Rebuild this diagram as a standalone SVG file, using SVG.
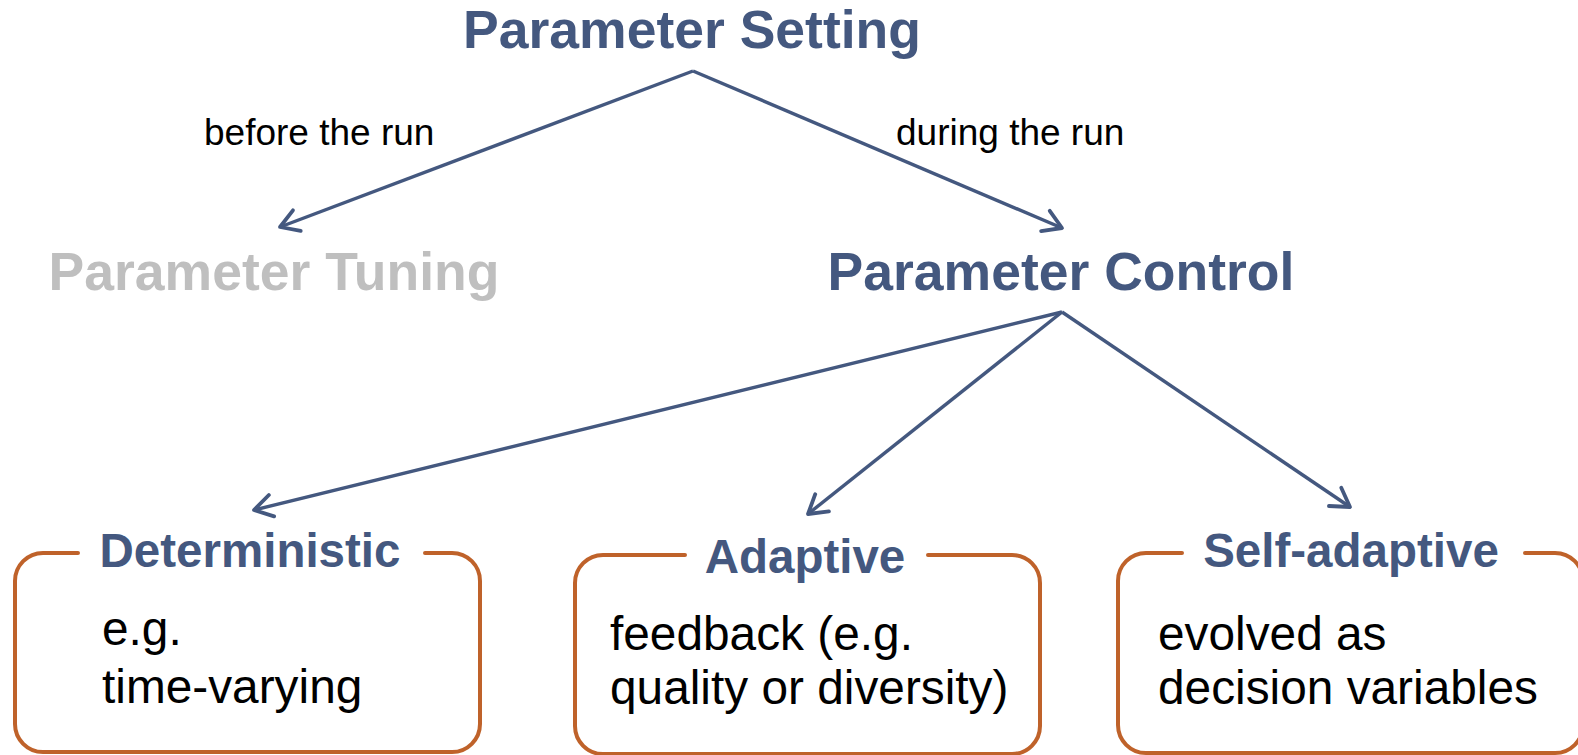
<svg xmlns="http://www.w3.org/2000/svg" width="1578" height="755" viewBox="0 0 1578 755">
  <style>
    .head { font-family: "Liberation Sans", Arial, sans-serif; font-weight: bold; font-size: 53.5px; fill: #44587f; }
    .muted { fill: #bfbfbf; }
    .edge-label { font-family: "Liberation Sans", Arial, sans-serif; font-size: 37px; fill: #000; }
    .title { font-family: "Liberation Sans", Arial, sans-serif; font-weight: bold; font-size: 47.5px; fill: #44587f; }
    .body { font-family: "Liberation Sans", Arial, sans-serif; font-size: 47.8px; fill: #000; }
    .frame { fill: none; stroke: #bf622a; stroke-width: 4; stroke-linecap: round; }
    .link { fill: none; stroke: #44587f; stroke-width: 3.4; marker-end: url(#arrow); }
  </style>
  <defs>
    <marker id="arrow" markerUnits="userSpaceOnUse" orient="auto" markerWidth="40" markerHeight="40" viewBox="-25 -20 40 40" refX="0" refY="0" overflow="visible">
      <path d="M-18,-11 L0,0 L-18,11" fill="none" stroke="#44587f" stroke-width="3.8" stroke-linecap="round" stroke-linejoin="round"/>
    </marker>
  </defs>

  <rect width="1578" height="755" fill="#ffffff"/>

  <!-- connectors -->
  <g id="connectors">
    <line class="link" x1="693" y1="71" x2="280" y2="227"/>
    <line class="link" x1="693" y1="71" x2="1062" y2="228"/>
    <line class="link" x1="1062" y1="312" x2="254" y2="510"/>
    <line class="link" x1="1062" y1="312" x2="808" y2="514"/>
    <line class="link" x1="1062" y1="312" x2="1350" y2="507"/>
    <text class="edge-label" x="204" y="145">before the run</text>
    <text class="edge-label" x="896" y="145">during the run</text>
  </g>

  <!-- top level -->
  <g id="parameter-setting">
    <text class="head" x="692" y="48" text-anchor="middle">Parameter Setting</text>
  </g>
  <g id="parameter-tuning">
    <text class="head muted" x="274" y="290" text-anchor="middle">Parameter Tuning</text>
  </g>
  <g id="parameter-control">
    <text class="head" x="1061" y="290" text-anchor="middle">Parameter Control</text>
  </g>

  <!-- boxed categories: frame open at the top for the title -->
  <g id="deterministic">
    <path class="frame" d="M78,553 H43 A28,28 0 0 0 15,581 V724 A28,28 0 0 0 43,752 H452 A28,28 0 0 0 480,724 V581 A28,28 0 0 0 452,553 H425"/>
    <text class="title" x="250" y="567" text-anchor="middle">Deterministic</text>
    <text class="body" x="102" y="645">e.g.</text>
    <text class="body" x="102" y="703">time-varying</text>
  </g>

  <g id="adaptive">
    <path class="frame" d="M685,555 H603 A28,28 0 0 0 575,583 V726 A28,28 0 0 0 603,754 H1012 A28,28 0 0 0 1040,726 V583 A28,28 0 0 0 1012,555 H928"/>
    <text class="title" x="805" y="573" text-anchor="middle">Adaptive</text>
    <text class="body" x="610" y="650">feedback (e.g.</text>
    <text class="body" x="610" y="704">quality or diversity)</text>
  </g>

  <g id="self-adaptive">
    <path class="frame" d="M1182,553 H1146 A28,28 0 0 0 1118,581 V725 A28,28 0 0 0 1146,753 H1555 A28,28 0 0 0 1583,725 V581 A28,28 0 0 0 1555,553 H1525"/>
    <text class="title" x="1351" y="567" text-anchor="middle">Self-adaptive</text>
    <text class="body" x="1158" y="650">evolved as</text>
    <text class="body" x="1158" y="704">decision variables</text>
  </g>
</svg>
